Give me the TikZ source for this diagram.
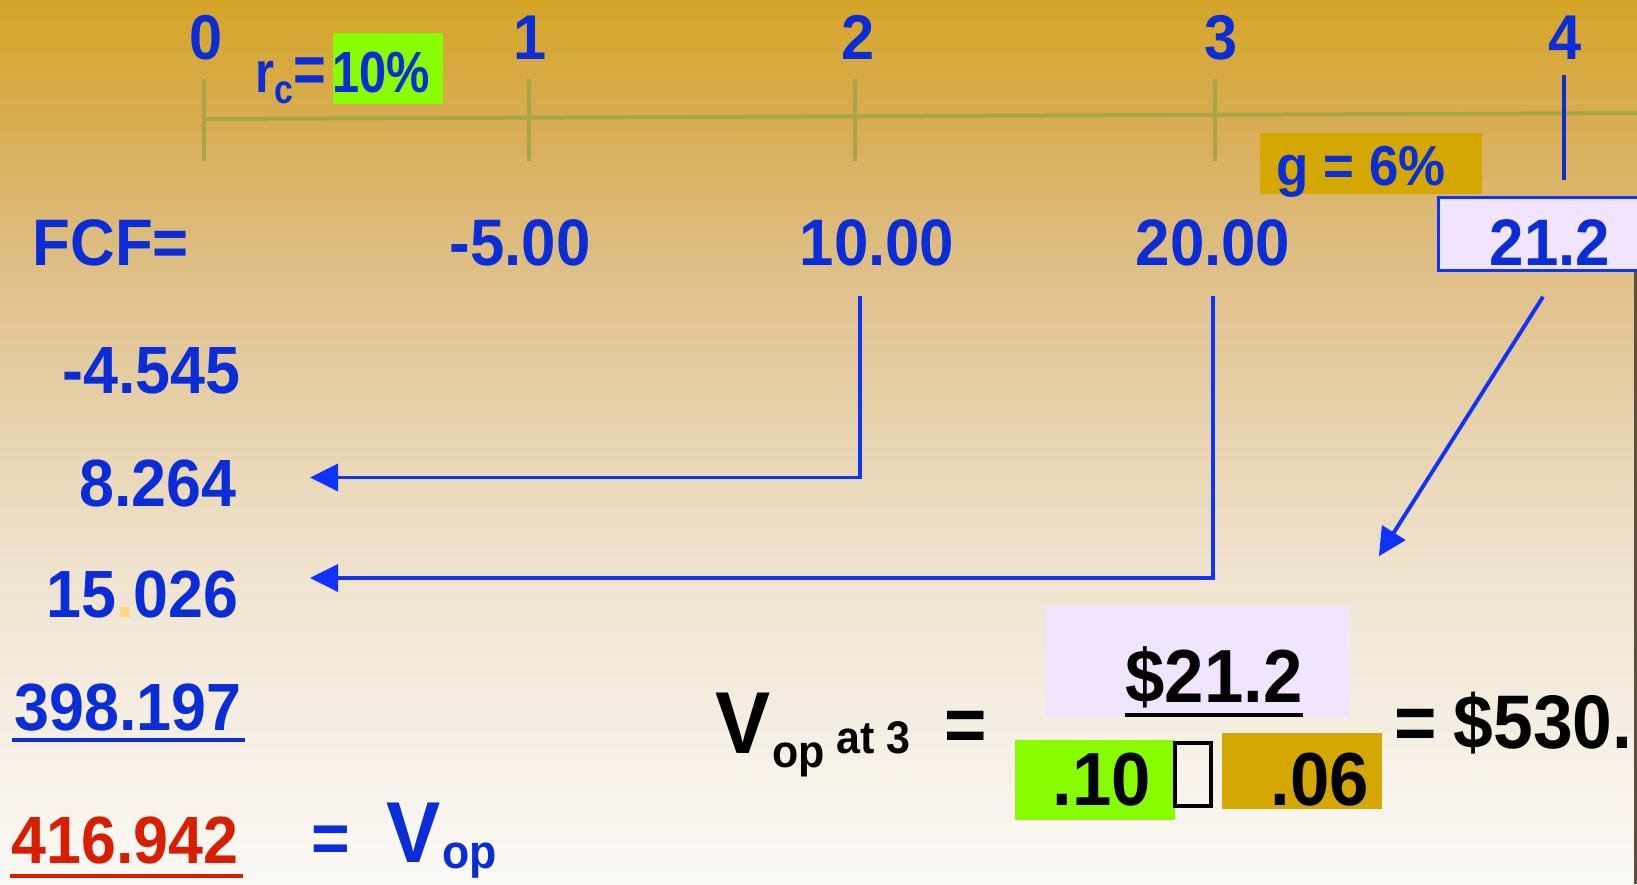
\documentclass[tikz,border=0pt]{standalone}
\usepackage{fontspec}
\setmainfont{Liberation Sans}[FakeStretch=0.94]
\newfontfamily\narrowfont{Liberation Sans}[FakeStretch=0.84]
\usetikzlibrary{arrows.meta,positioning,calc}

\definecolor{bg0}{RGB}{213,165,40}
\definecolor{bg1}{RGB}{216,173,82}
\definecolor{bg2}{RGB}{222,190,132}
\definecolor{bg3}{RGB}{231,210,172}
\definecolor{bg4}{RGB}{240,228,208}
\definecolor{bg5}{RGB}{251,249,246}
\definecolor{fcblue}{RGB}{10,45,215}
\definecolor{arrblue}{RGB}{15,50,255}
\definecolor{pvred}{RGB}{215,30,0}
\definecolor{axisol}{RGB}{168,166,72}
\definecolor{rcgreen}{RGB}{136,252,0}
\definecolor{ggold}{RGB}{212,168,0}
\definecolor{lilac}{RGB}{241,228,254}
\definecolor{dotorange}{RGB}{255,214,120}
\definecolor{edgebrown}{RGB}{95,78,60}

\begin{document}
\begin{tikzpicture}[x=0.01cm, y=-0.01cm, >={Triangle[length=0.28cm,width=0.27cm]},
  txt/.style={inner sep=0pt, text=fcblue, font=\bfseries\fontsize{18.7}{20}\selectfont},
  tlab/.style={txt, font=\bfseries\fontsize{18}{20}\selectfont, anchor=base},
  pv/.style={txt, font=\bfseries\fontsize{19}{20}\selectfont, anchor=base east},
  blk/.style={inner sep=0pt, text=black, font=\bfseries\fontsize{21.4}{22}\selectfont},
  patch/.style={inner sep=0pt, draw=none},
  tick/.style={axisol, line width=0.04cm},
  arr/.style={->, arrblue, line width=1.1pt},
]
  % background
  \useasboundingbox (0,0) rectangle (1637,884);
  \clip (0,0) rectangle (1637,884);
  \shade[top color=bg0, bottom color=bg1] (0,0) rectangle (1637,121);
  \shade[top color=bg1, bottom color=bg2] (0,120) rectangle (1637,261);
  \shade[top color=bg2, bottom color=bg3] (0,260) rectangle (1637,421);
  \shade[top color=bg3, bottom color=bg4] (0,420) rectangle (1637,581);
  \shade[top color=bg4, bottom color=bg5] (0,580) rectangle (1637,884);
  \fill[edgebrown] (1634,270) rectangle (1640,884);

  % time line
  \coordinate (axend) at (1640,113);
  \foreach \x/\lx/\n in {204/206/0, 529/530/1, 855/858/2, 1215/1221/3} {
    \coordinate (tk\n) at (\x,119);
    \draw[tick] (\x,79) -- (\x,161);
    \node[tlab] (t\n) at (\lx,59) {\n};
  }
  \draw[tick] (tk0) -- (axend);
  \draw[fcblue, line width=0.04cm] (1564,75) -- (1564,180);
  \node[tlab] (t4) at (1565,59) {4};

  \node[txt, anchor=base west, font=\narrowfont\bfseries\fontsize{16.5}{18}\selectfont] (rclab) at (255,92)
        {r\raisebox{-0.11cm}{\fontsize{11.5}{12}\selectfont c}{\fontsize{19}{19}\selectfont=}};
  \node[patch, fill=rcgreen, minimum width=1.1cm, minimum height=0.71cm] (rcbox) at (388,68.5) {};
  \node[txt, anchor=base west, font=\narrowfont\bfseries\fontsize{16.5}{18}\selectfont] (rc) at (332,92) {10\%};

  \node[patch, fill=ggold, minimum width=2.22cm, minimum height=0.61cm] (gbox) at (1371,163.5) {};
  \node[txt, anchor=base west, font=\bfseries\fontsize{16}{18}\selectfont] (g) at (1276,185) {g = 6\%};

  % cash flows
  \node[draw=arrblue, fill=lilac, line width=0.03cm, minimum width=2.3cm, minimum height=0.73cm,
        anchor=north west] (cfbox) at (1437,196) {};
  \node[txt, anchor=base west] (fcf) at (32,265) {FCF=};
  \node[txt, anchor=base] (cf1) at (520,265) {-5.00};
  \node[txt, anchor=base] (cf2) at (877,265) {10.00};
  \node[txt, anchor=base] (cf3) at (1213,265) {20.00};
  \node[txt, anchor=base] (cf4) at (1550,265) {21.2};

  % present values
  \node[pv] (pv1) at (241,393) {-4.545};
  \node[pv] (pv2) at (237,506) {8.264};
  \node[pv] (pv3) at (239,617) {15\textcolor{dotorange}{.}026};
  \node[pv] (pv4) at (242,730) {398.197};
  \node[pv, text=pvred] (pv0) at (239,863) {416.942};
  \draw[fcblue, line width=0.035cm] ([shift={(-0.02cm,-0.1cm)}]pv4.base west) -- ([shift={(0.03cm,-0.1cm)}]pv4.base east);
  \draw[pvred, line width=0.035cm] ([shift={(-0.01cm,-0.13cm)}]pv0.base west) -- ([shift={(0.04cm,-0.13cm)}]pv0.base east);
  \node[txt, anchor=base, font=\bfseries\fontsize{20}{20}\selectfont] (eqv) at (331,862) {=};
  \node[txt, anchor=base west, font=\bfseries\fontsize{24.6}{25}\selectfont] (vop) at (386,862) {V};
  \node[txt, anchor=base west, font=\bfseries\fontsize{13.5}{14}\selectfont] (vsub) at ([yshift=-0.06cm]vop.base east) {op};

  % terminal value
  \node[blk, anchor=base west, font=\bfseries\fontsize{25}{25}\selectfont] (vop3) at (715,753) {V};
  \node[blk, anchor=base west, font=\bfseries\fontsize{13}{14}\selectfont] (sub3) at ([yshift=-0.14cm]vop3.base east)
        {op \raisebox{0.14cm}{at 3}};
  \node[blk, anchor=base, font=\bfseries\fontsize{22}{22}\selectfont] (eq3) at (966,751) {=};
  \node[patch, fill=lilac, minimum width=3.04cm, minimum height=1.11cm] (numbox) at (1198,661.5) {};
  \node[blk, anchor=base] (numtxt) at (1214,702) {\$21.2};
  \draw[line width=0.04cm] ([yshift=-0.13cm]numtxt.base west) -- ([yshift=-0.13cm]numtxt.base east);
  \node[patch, fill=rcgreen, minimum width=1.6cm, minimum height=0.8cm] (rbox) at (1095,780) {};
  \node[blk, anchor=base east] (rtxt) at (1152,805) {.10};
  \node[draw=black, line width=0.04cm, minimum width=0.36cm, minimum height=0.63cm, inner sep=0pt] (minus) at (1193,774.5) {};
  \node[patch, fill=ggold, minimum width=1.6cm, minimum height=0.76cm] (gbox2) at (1302,771) {};
  \node[blk, anchor=base east] (gtxt) at (1370,805) {.06};
  \node[blk, anchor=base, font=\bfseries\fontsize{22}{22}\selectfont] (eq4) at (1416,749) {=};
  \node[blk, anchor=base west, font=\bfseries\fontsize{21.6}{22}\selectfont] (tv) at (1453,748) {\$530.};

  % discounting arrows
  \draw[arr] ([shift={(-0.17cm,-0.3cm)}]cf2.south) |- ([shift={(0.73cm,0.055cm)}]pv2.east);
  \draw[arr] ([yshift=-0.3cm]cf3.south) |- ([shift={(0.71cm,0.16cm)}]pv3.east);
  \draw[arr] ([shift={(-0.07cm,-0.31cm)}]cf4.south) -- ([shift={(0.28cm,0.49cm)}]numbox.north east);
\end{tikzpicture}
\end{document}
